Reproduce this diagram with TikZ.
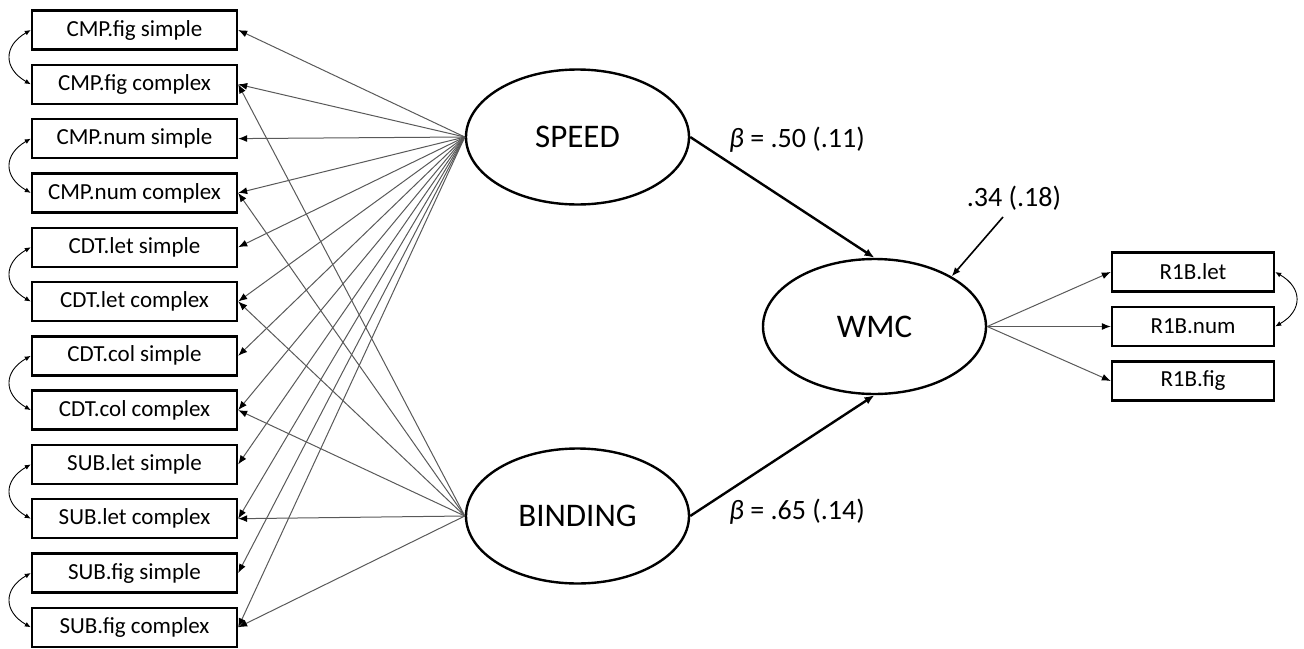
\documentclass[tikz,border=0pt]{standalone}
\usepackage{fontspec}
\setmainfont{Carlito}
\usetikzlibrary{arrows.meta,shapes.geometric}
\begin{document}
\begin{tikzpicture}[x=1pt,y=1pt,
 obs/.style={draw,line width=2.4pt,minimum width=205pt,minimum height=39pt,inner sep=0pt,font=\fontsize{23}{27}\selectfont},
 obsr/.style={obs,minimum width=162pt},
 lat/.style={draw,ellipse,line width=2.4pt,minimum width=223pt,minimum height=135pt,inner sep=0pt,font=\fontsize{33}{39}\selectfont},
 load/.style={draw=black!65,line width=1pt,-{Latex[length=9pt,width=7pt,color=black]}},
 reg/.style={draw=black,line width=2.4pt,-{Latex[length=10pt,width=8pt]}},
 resid/.style={draw=black,line width=1.6pt,-{Latex[length=9pt,width=7pt]}},
 cov/.style={draw=black,line width=0.9pt,{Latex[length=6pt,width=5pt]}-{Latex[length=6pt,width=5pt]}},
 lbl/.style={font=\fontsize{28}{33}\selectfont}]
\useasboundingbox (0,0) rectangle (1304,-648);
\foreach \t [count=\i from 0] in {CMP.fig simple, CMP.fig complex, CMP.num simple, CMP.num complex, CDT.let simple, CDT.let complex, CDT.col simple, CDT.col complex, SUB.let simple, SUB.let complex, SUB.fig simple, SUB.fig complex}
  {\node[obs] (o\i) at (134.5,{-30-54.3*\i}) {\t};}
\node[lat] (speed) at (577.5,-137) {SPEED};
\node[lat] (binding) at (577.5,-516) {BINDING};
\node[lat] (wmc) at (874.5,-326.5) {WMC};
\node[obsr] (r1) at (1193,-272) {R1B.let};
\node[obsr] (r2) at (1193,-326.5) {R1B.num};
\node[obsr] (r3) at (1193,-381) {R1B.fig};
\foreach \i in {0,...,11} \draw[load] (speed.west) -- (o\i.east);
\foreach \i in {1,3,5,7,9,11} \draw[load] (binding.west) -- (o\i.east);
\foreach \i in {1,2,3} \draw[load] (wmc.east) -- (r\i.west);
\foreach \i/\j in {0/1,2/3,4/5,6/7,8/9,10/11}
  \draw[cov] (o\i.west) to[out=-150,in=150,looseness=1.5] (o\j.west);
\draw[cov] (r1.east) to[out=-30,in=30,looseness=1.5] (r2.east);
\draw[reg] (speed.east) -- (wmc.north);
\draw[reg] (binding.east) -- (wmc.south);
\coordinate (res) at (1003,-217);
\draw[resid] (res) -- (wmc.33);
\node[lbl] (b1) at (797,-140) {\textit{β} = .50 (.11)};
\node[lbl] (b2) at (797,-512) {\textit{β} = .65 (.14)};
\node[lbl] (rl) at (1014,-198) {.34 (.18)};
\end{tikzpicture}
\end{document}
